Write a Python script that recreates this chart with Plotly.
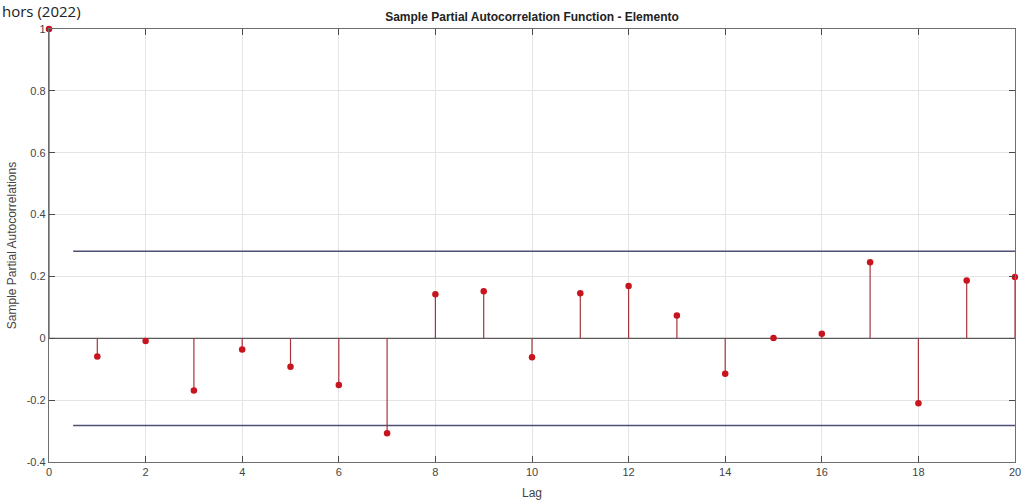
import plotly.graph_objects as go

lags = list(range(0, 21))
pacf = [1.0, -0.059, -0.009, -0.169, -0.036, -0.092, -0.151, -0.307, 0.142, 0.152,
        -0.061, 0.146, 0.169, 0.074, -0.115, 0.001, 0.015, 0.246, -0.210, 0.187, 0.198]
bound = 0.2816
bound_x = [0.5, 20]
x_ticks = [0, 2, 4, 6, 8, 10, 12, 14, 16, 18, 20]
y_ticks = [-0.4, -0.2, 0, 0.2, 0.4, 0.6, 0.8, 1]
y_tick_text = ["-0.4", "-0.2", "0", "0.2", "0.4", "0.6", "0.8", "1"]

stem_x, stem_y = [], []
for k, v in zip(lags, pacf):
    stem_x += [k, k, None]
    stem_y += [0, v, None]

fig = go.Figure()
# zero line
fig.add_trace(go.Scatter(x=[lags[0], lags[-1]], y=[0, 0], mode="lines",
                         line=dict(color="#5a5a5a", width=1.2), hoverinfo="skip"))
# confidence bounds
fig.add_trace(go.Scatter(x=bound_x, y=[bound, bound], mode="lines",
                         line=dict(color="#4d5075", width=1.5), hoverinfo="skip"))
fig.add_trace(go.Scatter(x=bound_x, y=[-bound, -bound], mode="lines",
                         line=dict(color="#4d5075", width=1.5), hoverinfo="skip"))
# stems
fig.add_trace(go.Scatter(x=stem_x, y=stem_y, mode="lines",
                         line=dict(color="#a8343c", width=1.2), hoverinfo="skip", cliponaxis=False))
# markers
fig.add_trace(go.Scatter(x=lags, y=pacf, mode="markers",
                         marker=dict(color="#c8141e", size=6.5), cliponaxis=False))

font_fam = "Liberation Sans, Arial"
axis_common = dict(showline=True, linecolor="#6e6e6e", linewidth=1.3, mirror="ticks",
                   ticks="inside", ticklen=6, tickcolor="#4a4a4a", automargin=False,
                   showgrid=True, gridcolor="#e4e4e4", gridwidth=1, zeroline=False,
                   tickfont=dict(family=font_fam, size=11, color="#444444"))

fig.update_layout(
    width=1029, height=503,
    margin=dict(l=49, r=14, t=29, b=41, autoexpand=False),
    paper_bgcolor="white", plot_bgcolor="white",
    showlegend=False,
    title=dict(text="<b>Sample Partial Autocorrelation Function - Elemento</b>",
               x=0.5, xanchor="center", xref="paper", y=1 - 17 / 503, yanchor="middle",
               automargin=False,
               font=dict(family=font_fam, size=12, color="#222222")),
    xaxis=dict(range=[0, 20], tickvals=x_ticks, ticktext=[str(t) for t in x_ticks],
               title=dict(text="Lag", font=dict(family=font_fam, size=12, color="#444444"),
                          standoff=11), **axis_common),
    yaxis=dict(range=[-0.4, 1], tickvals=y_ticks, ticktext=y_tick_text,
               title=dict(text="Sample Partial Autocorrelations",
                          font=dict(family=font_fam, size=12, color="#444444"),
                          standoff=7), **axis_common),
)

fig.add_annotation(text="hors (2022)", xref="paper", yref="paper",
                   x=-49 / 966, xanchor="left",
                   y=1 + 29 / 433, yanchor="top", yshift=1, showarrow=False,
                   font=dict(family="Open Sans", size=15, color="#222222"))

fig.write_html("out.html")
